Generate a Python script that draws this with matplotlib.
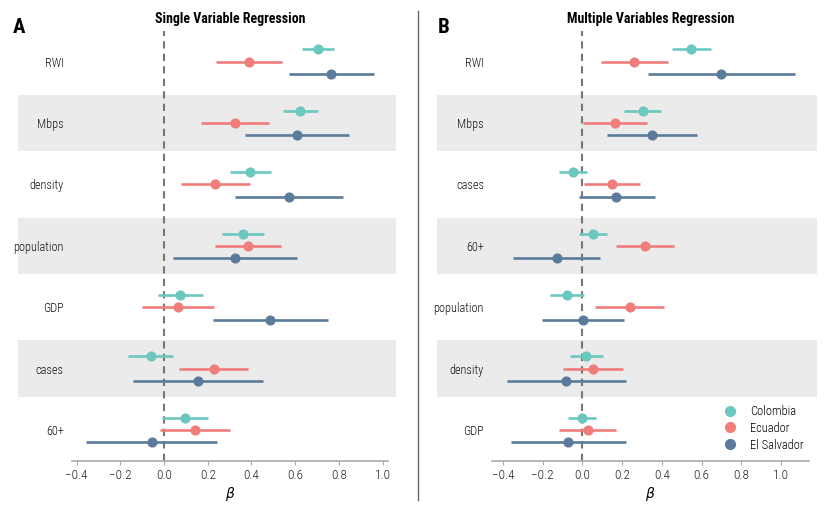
import numpy as np
import matplotlib
matplotlib.use('Agg')
import matplotlib.pyplot as plt
from matplotlib.lines import Line2D

plt.rcParams['font.family'] = ['Roboto Condensed', 'Liberation Sans Narrow', 'Roboto', 'DejaVu Sans']

countries = ['Colombia', 'Ecuador', 'El Salvador']
colors = ['#6cc7be', '#f07d7a', '#5b7b9a']

# Panel A: single variable regression
vars_a = ['RWI', 'Mbps', 'density', 'population', 'GDP', 'cases', '60+']
beta_a = {
    'Colombia':    [0.705, 0.623, 0.395, 0.361, 0.074, -0.062, 0.097],
    'Ecuador':     [0.388, 0.324, 0.233, 0.382, 0.064, 0.229, 0.142],
    'El Salvador': [0.764, 0.608, 0.570, 0.324, 0.486, 0.155, -0.056],
}
lo_a = {
    'Colombia':    [0.629, 0.542, 0.300, 0.264, -0.027, -0.164, -0.008],
    'Ecuador':     [0.238, 0.168, 0.076, 0.232, -0.101, 0.070, -0.018],
    'El Salvador': [0.570, 0.370, 0.323, 0.039, 0.223, -0.142, -0.356],
}
hi_a = {
    'Colombia':    [0.777, 0.706, 0.489, 0.456, 0.179, 0.041, 0.199],
    'Ecuador':     [0.539, 0.479, 0.391, 0.536, 0.227, 0.386, 0.302],
    'El Salvador': [0.959, 0.847, 0.817, 0.608, 0.750, 0.452, 0.244],
}

# Panel B: multiple variables regression
vars_b = ['RWI', 'Mbps', 'cases', '60+', 'population', 'density', 'GDP']
beta_b = {
    'Colombia':    [0.549, 0.303, -0.047, 0.055, -0.077, 0.020, -0.001],
    'Ecuador':     [0.262, 0.165, 0.148, 0.314, 0.238, 0.053, 0.026],
    'El Salvador': [0.699, 0.350, 0.171, -0.129, 0.003, -0.081, -0.071],
}
lo_b = {
    'Colombia':    [0.452, 0.208, -0.117, -0.016, -0.164, -0.064, -0.071],
    'Ecuador':     [0.096, 0.003, 0.006, 0.171, 0.066, -0.099, -0.116],
    'El Salvador': [0.329, 0.123, -0.019, -0.350, -0.204, -0.381, -0.361],
}
hi_b = {
    'Colombia':    [0.647, 0.397, 0.023, 0.126, 0.008, 0.103, 0.070],
    'Ecuador':     [0.430, 0.324, 0.292, 0.459, 0.409, 0.203, 0.170],
    'El Salvador': [1.068, 0.579, 0.364, 0.091, 0.211, 0.220, 0.218],
}

fig = plt.figure(figsize=(8.31, 5.14), dpi=100)
ax_a = fig.add_axes([0.0866, 0.1037, 0.3803, 0.836])
ax_b = fig.add_axes([0.5924, 0.1037, 0.3811, 0.836])


def draw_panel(ax, labels, beta, lo, hi, title, band_left):
    n = len(labels)
    ypos = np.arange(n)
    offsets = [-0.2, 0.0, 0.2]
    # grey bands behind every other row, reaching into the label area
    for i in range(1, n, 2):
        band = ax.axhspan(i - 0.46, i + 0.46, xmin=band_left, xmax=1.025,
                          color='#ebebeb', zorder=0, lw=0)
        band.set_clip_on(False)
    for c, col, off in zip(countries, colors, offsets):
        y = ypos + off
        ax.hlines(y, lo[c], hi[c], color=col, lw=1.9, zorder=2)
        ax.plot(beta[c], y, 'o', color=col, ms=6.3, zorder=3, label=c)
    ax.axvline(0, color='#777777', ls=(0, (3.5, 2.5)), lw=1.5, zorder=1)
    ax.set_ylim(n - 0.5, -0.5)
    ax.set_yticks(ypos)
    ax.set_yticklabels(labels, fontsize=8.8, color='#111111', fontweight='light')
    ax.tick_params(axis='y', length=0, pad=6)
    ticks = np.arange(-0.4, 1.01, 0.2)
    ax.set_xticks(ticks)
    ax.set_xticklabels([f'{v:.1f}'.replace('-', '\u2212') for v in ticks],
                       fontweight='light')
    ax.tick_params(axis='x', length=3, color='#aaaaaa', labelsize=9.5, labelcolor='#222222', pad=3)
    for s in ['top', 'right', 'left']:
        ax.spines[s].set_visible(False)
    ax.spines['bottom'].set_color('#aaaaaa')
    ax.spines['bottom'].set_linewidth(1.2)
    ax.set_xlabel(r'$\beta$', fontsize=10, labelpad=2)
    ax.set_title(title, fontsize=10, fontweight='bold', pad=6)
    ax.margins(x=0.05)


draw_panel(ax_a, vars_a, beta_a, lo_a, hi_a, 'Single Variable Regression', -0.17)
draw_panel(ax_b, vars_b, beta_b, lo_b, hi_b, 'Multiple Variables Regression', -0.173)

handles = [Line2D([], [], ls='', marker='o', ms=7, color=col) for col in colors]
ax_b.legend(handles, countries, loc='lower right', bbox_to_anchor=(1.02, -0.005),
            frameon=False, prop={'size': 9, 'weight': 'light'},
            handletextpad=0.6, labelspacing=0.3)

fig.text(0.015, 0.935, 'A', fontsize=15, fontweight='bold')
fig.text(0.527, 0.935, 'B', fontsize=15, fontweight='bold')
fig.add_artist(Line2D([0.5027, 0.5027], [0.027, 0.978], color='#666666', lw=1.0))

fig.savefig('out.png', dpi=100)
